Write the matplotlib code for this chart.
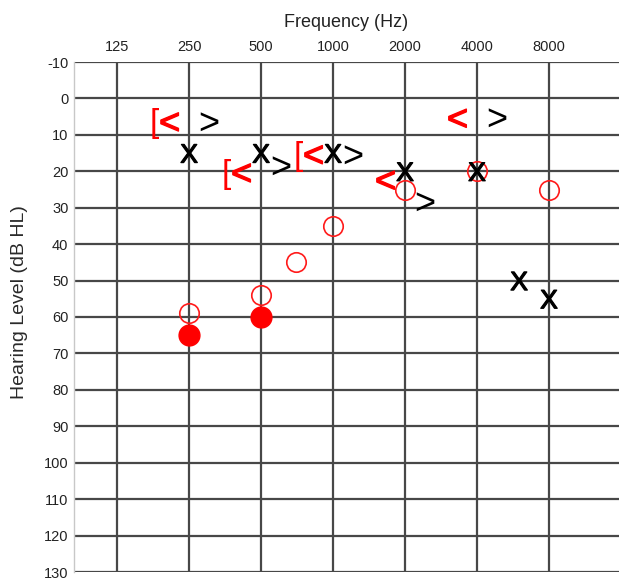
import numpy as np
import matplotlib.pyplot as plt
import matplotlib.patheffects as pe
from matplotlib.transforms import ScaledTranslation

plt.rcParams['font.family'] = ['Liberation Sans', 'DejaVu Sans']
plt.rcParams['axes.unicode_minus'] = False

# Frecuencias del audiograma
freq_ticks = [125, 250, 500, 1000, 2000, 4000, 8000]
freq_labels = ['125', '250', '500', '1000', '2000', '4000', '8000']
db_ticks = list(range(-10, 131, 10))

# Via aerea oido izquierdo (X)
x_freq = [250, 500, 1000, 2000, 4000, 6000, 8000]
x_db = [15, 15, 15, 20, 20, 50, 55]

# Via aerea oido derecho (circulo abierto)
o_freq = [250, 500, 700, 1000, 2000, 4000, 8000]
o_db = [59, 54, 45, 35, 25, 20, 25]

# Circulo relleno
f_freq = [250, 500]
f_db = [65, 60]

# Via osea derecha sin enmascarar (<) y enmascarada ([)
lt_freq = [250, 500, 1000, 2000, 4000]
lt_db = [6, 20, 15, 22, 5]
br_freq = [250, 500, 1000]
br_db = [6, 20, 15]

# Via osea izquierda (>)
gt_freq = [250, 500, 1000, 2000, 4000]
gt_db = [6, 18, 15, 28, 5]

fig = plt.figure(figsize=(6.19, 5.79), dpi=100)
ax = fig.add_axes([74 / 619, 7 / 579, 545 / 619, 510 / 579])

ax.set_xscale('log', base=2)
ax.set_xlim(82.5, 15700)
ax.set_ylim(130, -10)
ax.set_xticks(freq_ticks)
ax.set_xticklabels(freq_labels)
ax.minorticks_off()
ax.set_yticks(db_ticks)
ax.xaxis.tick_top()
ax.xaxis.set_label_position('top')
ax.tick_params(axis='both', length=0, labelsize=10.5, colors='#222222')
ax.tick_params(axis='x', pad=6)
ax.tick_params(axis='y', pad=4)
ax.grid(True, color='#474747', linewidth=1.6)
ax.set_axisbelow(True)
for side in ['top', 'right', 'bottom']:
    ax.spines[side].set_visible(False)
ax.spines['left'].set_color('#c8c8c8')
ax.spines['left'].set_linewidth(1)

ax.set_xlabel('Frequency (Hz)', fontsize=13, color='#222222', labelpad=9)
ax.set_ylabel('Hearing Level (dB HL)', fontsize=14, color='#2a2a2a')
ax.yaxis.set_label_coords(-0.085, 0.53)

# simbolos
ax.plot(o_freq, o_db, 'o', ms=14, mfc='none', mec='#ff1a1a', mew=1.2, ls='none')
ax.plot(f_freq, f_db, 'o', ms=15, mfc='#ff0000', mec='#ff0000', ls='none')


def glyphs(freqs, dbs, s, color, dx, size, thick=0.0):
    off = ScaledTranslation(dx / 72, 0, fig.dpi_scale_trans)
    fx = [pe.withStroke(linewidth=thick, foreground=color)] if thick else None
    for f, d in zip(freqs, dbs):
        ax.text(f, d, s, color=color, fontsize=size, path_effects=fx,
                ha='center', va='center_baseline', transform=ax.transData + off)


glyphs(x_freq, x_db, 'X', 'black', 0, 19, 0.9)
glyphs(lt_freq, lt_db, '<', '#ff0000', -14, 26, 1.0)
glyphs(br_freq, br_db, '[', '#ff0000', -25, 24)
glyphs(gt_freq, gt_db, '>', 'black', 14, 26)

fig.savefig('out.png', dpi=100)
